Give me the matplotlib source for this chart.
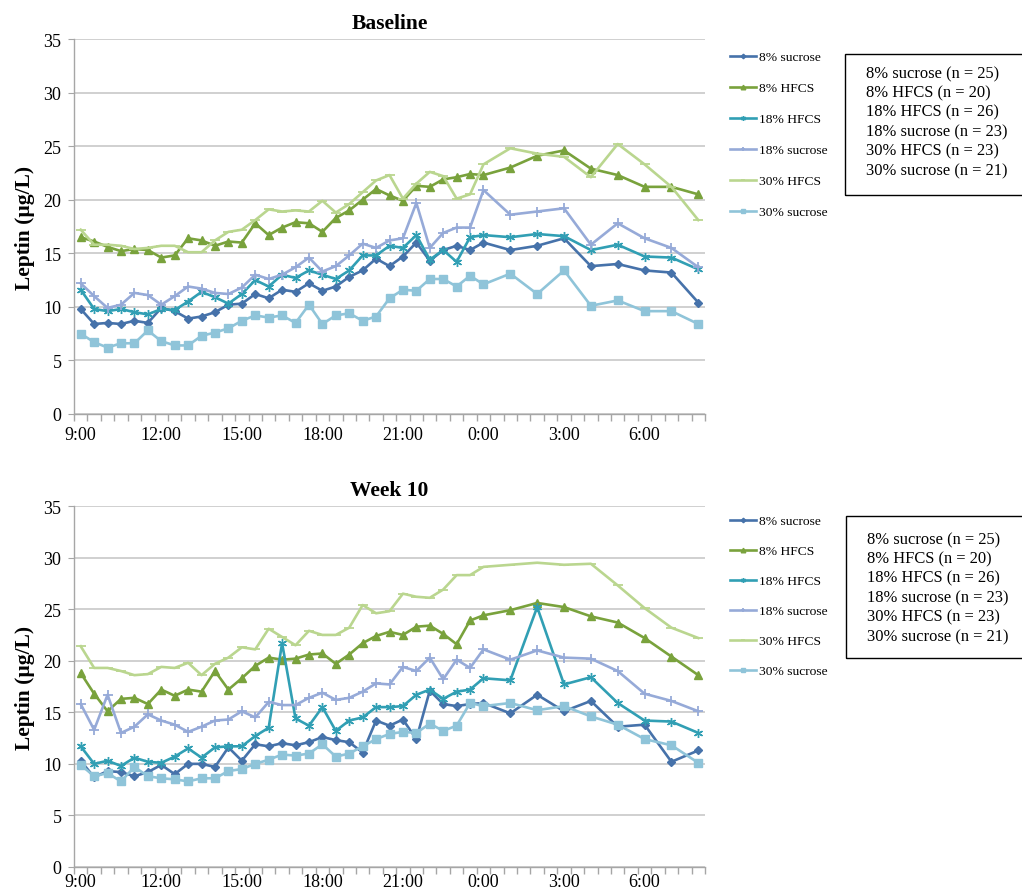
import matplotlib
matplotlib.use("Agg")
import matplotlib.pyplot as plt
from matplotlib.patches import Rectangle

plt.rcParams['font.family'] = ['Liberation Serif', 'DejaVu Serif']

# ---------------- data ----------------
times = ["9:00", "9:30", "10:00", "10:30", "11:00", "11:30", "12:00", "12:30",
         "13:00", "13:30", "14:00", "14:30", "15:00", "15:30", "16:00", "16:30",
         "17:00", "17:30", "18:00", "18:30", "19:00", "19:30", "20:00", "20:30",
         "21:00", "21:30", "22:00", "22:30", "23:00", "23:30", "0:00",
         "1:00", "2:00", "3:00", "4:00", "5:00", "6:00", "7:00", "8:00"]
tick_labels = ["9:00", "12:00", "15:00", "18:00", "21:00", "0:00", "3:00", "6:00"]
series_names = ["8% sucrose", "8% HFCS", "18% HFCS", "18% sucrose", "30% HFCS", "30% sucrose"]
group_n = [25, 20, 26, 23, 23, 21]
panel_titles = ["Baseline", "Week 10"]

# Baseline
base_s8 = [9.8, 8.4, 8.5, 8.4, 8.7, 8.5, 9.9, 9.6, 8.9, 9.1, 9.5, 10.2, 10.3, 11.2, 10.8, 11.6,
           11.4, 12.2, 11.5, 11.9, 12.8, 13.4, 14.5, 13.8, 14.7, 16.0, 14.3, 15.3, 15.7, 15.3, 16.0,
           15.3, 15.7, 16.4, 13.8, 14.0, 13.4, 13.2, 10.4]
base_h8 = [16.5, 16.1, 15.6, 15.2, 15.4, 15.3, 14.6, 14.8, 16.4, 16.2, 15.7, 16.1, 16.0, 17.8, 16.7, 17.4,
           17.9, 17.8, 17.0, 18.3, 19.0, 20.0, 21.0, 20.4, 19.9, 21.3, 21.2, 21.9, 22.1, 22.4, 22.3,
           23.0, 24.1, 24.6, 22.9, 22.3, 21.2, 21.2, 20.5]
base_h18 = [11.6, 9.8, 9.6, 9.8, 9.5, 9.3, 9.8, 9.7, 10.5, 11.4, 10.9, 10.3, 11.2, 12.5, 11.9, 13.0,
            12.7, 13.4, 13.0, 12.6, 13.4, 14.8, 14.8, 15.7, 15.5, 16.7, 14.4, 15.3, 14.2, 16.5, 16.7,
            16.5, 16.8, 16.6, 15.3, 15.8, 14.7, 14.6, 13.5]
base_s18 = [12.2, 11.0, 9.9, 10.2, 11.3, 11.1, 10.2, 11.0, 11.9, 11.7, 11.3, 11.2, 11.8, 13.0, 12.6, 13.0,
            13.7, 14.6, 13.3, 13.8, 14.8, 15.9, 15.5, 16.2, 16.4, 19.7, 15.5, 16.9, 17.4, 17.4, 20.9,
            18.6, 18.9, 19.2, 15.8, 17.8, 16.4, 15.5, 13.7]
base_h30 = [17.2, 15.8, 15.8, 15.7, 15.4, 15.5, 15.7, 15.7, 15.1, 15.1, 16.2, 17.0, 17.2, 18.1, 19.1, 18.9,
            19.0, 18.9, 19.9, 18.8, 19.6, 20.7, 21.8, 22.3, 20.1, 21.5, 22.6, 22.2, 20.1, 20.5, 23.3,
            24.8, 24.3, 24.0, 22.1, 25.2, 23.3, 21.2, 18.1]
base_s30 = [7.5, 6.7, 6.2, 6.6, 6.6, 7.8, 6.8, 6.4, 6.4, 7.3, 7.6, 8.0, 8.7, 9.2, 9.0, 9.2,
            8.5, 10.2, 8.4, 9.2, 9.4, 8.7, 9.1, 10.8, 11.6, 11.5, 12.6, 12.6, 11.9, 12.9, 12.1,
            13.1, 11.2, 13.4, 10.1, 10.6, 9.6, 9.6, 8.4]

# Week 10
wk10_s8 = [10.3, 8.7, 9.3, 9.2, 8.8, 9.2, 9.9, 9.0, 10.0, 10.0, 9.7, 11.6, 10.3, 11.9, 11.7, 12.0,
           11.8, 12.1, 12.6, 12.3, 12.1, 11.1, 14.2, 13.7, 14.3, 12.4, 17.1, 15.8, 15.6, 15.8, 15.9,
           14.9, 16.7, 15.1, 16.1, 13.6, 13.8, 10.2, 11.3]
wk10_h8 = [18.8, 16.8, 15.1, 16.3, 16.4, 15.8, 17.2, 16.6, 17.2, 17.0, 19.0, 17.2, 18.3, 19.5, 20.3, 20.1,
           20.2, 20.6, 20.7, 19.7, 20.6, 21.7, 22.4, 22.8, 22.5, 23.3, 23.4, 22.6, 21.6, 23.9, 24.4,
           24.9, 25.6, 25.2, 24.3, 23.7, 22.2, 20.4, 18.6]
wk10_h18 = [11.7, 10.0, 10.3, 9.8, 10.6, 10.2, 10.1, 10.7, 11.5, 10.6, 11.6, 11.7, 11.7, 12.7, 13.5, 21.7,
            14.4, 13.7, 15.5, 13.2, 14.2, 14.5, 15.5, 15.5, 15.6, 16.7, 17.2, 16.3, 17.0, 17.2, 18.3,
            18.1, 25.2, 17.7, 18.4, 15.9, 14.2, 14.1, 13.0]
wk10_s18 = [15.8, 13.3, 16.7, 13.0, 13.6, 14.8, 14.2, 13.8, 13.1, 13.6, 14.2, 14.3, 15.1, 14.5, 16.0, 15.7,
            15.7, 16.4, 16.9, 16.2, 16.4, 17.0, 17.8, 17.7, 19.4, 19.0, 20.3, 18.2, 20.1, 19.3, 21.1,
            20.1, 21.0, 20.3, 20.2, 19.0, 16.8, 16.1, 15.1]
wk10_h30 = [21.4, 19.3, 19.3, 19.0, 18.6, 18.7, 19.4, 19.3, 19.8, 18.6, 19.7, 20.3, 21.3, 21.1, 23.1, 22.3,
            21.5, 22.9, 22.5, 22.5, 23.2, 25.4, 24.6, 24.8, 26.5, 26.2, 26.1, 26.9, 28.3, 28.3, 29.1,
            29.3, 29.5, 29.3, 29.4, 27.3, 25.1, 23.2, 22.2]
wk10_s30 = [9.9, 8.8, 9.1, 8.3, 9.7, 8.8, 8.6, 8.5, 8.3, 8.6, 8.6, 9.3, 9.5, 10.0, 10.4, 10.9,
            10.8, 11.0, 11.9, 10.7, 11.0, 11.7, 12.4, 12.9, 13.1, 13.0, 13.9, 13.2, 13.7, 15.9, 15.6,
            15.9, 15.2, 15.6, 14.6, 13.8, 12.4, 11.8, 10.1]

panels = [
    [base_s8, base_h8, base_h18, base_s18, base_h30, base_s30],
    [wk10_s8, wk10_h8, wk10_h18, wk10_s18, wk10_h30, wk10_s30],
]

# ---------------- styles ----------------
colors = ["#4672aa", "#79a23c", "#319fb4", "#96aad8", "#bad68f", "#8fc4d9"]
markers = ["D", "^", (6, 2, 0), "+", "_", "s"]
msizes = [4.2, 6, 6.5, 6.5, 6.5, 6]
mews = [1, 1, 1.0, 1.3, 1.3, 1]


def to_hours(t):
    hh, mm = t.split(":")
    return (int(hh) - 9) % 24 + int(mm) / 60.0


x = [to_hours(t) for t in times]
tick_pos = [to_hours(t) for t in tick_labels]

W, H = 1022, 895
fig = plt.figure(figsize=(W / 100, H / 100), dpi=100)

ax_px = [(74, 40, 705, 415), (74, 507, 705, 868)]
xlabel_pad = [9, 4.5]
legend_top = [48, 512]
legend_spacing = [31, 30]
box_px = [(845, 55, 196), (846, 517, 659)]
box_text_top = [74, 540]

for p in range(2):
    l, t, r, b = ax_px[p]
    ax = fig.add_axes([l / W, 1 - b / H, (r - l) / W, (b - t) / H])
    for k in range(6):
        ax.plot(x, panels[p][k], color=colors[k], lw=1.9, marker=markers[k],
                markersize=msizes[k], markeredgewidth=mews[k],
                markerfacecolor=colors[k], markeredgecolor=colors[k],
                label=series_names[k])
    ax.set_xlim(-0.25, 23.25)
    ax.set_ylim(0, 35)
    ax.set_yticks(range(0, 36, 5))
    ax.yaxis.grid(True, color="#c4c4c4", lw=1.1)
    ax.set_axisbelow(True)
    for s in ["top", "right"]:
        ax.spines[s].set_visible(False)
    for s in ["left", "bottom"]:
        ax.spines[s].set_color("#a6a6a6")
        ax.spines[s].set_linewidth(1.0)
    ax.set_xticks(tick_pos)
    ax.set_xticklabels(tick_labels)
    ax.set_xticks([v - 0.25 for v in [i * 0.5 for i in range(48)]], minor=True)
    ax.tick_params(axis="x", which="major", length=0, labelsize=13, pad=xlabel_pad[p])
    ax.tick_params(axis="x", which="minor", length=5, color="#a6a6a6", width=1.0)
    ax.tick_params(axis="y", which="major", length=4, color="#a6a6a6", labelsize=13, pad=5)
    ax.set_ylabel("Leptin (µg/L)", fontsize=15.5, fontweight="bold", labelpad=6)
    ax.set_title(panel_titles[p], fontsize=15.5, fontweight="bold", pad=8)

    fig.legend(*ax.get_legend_handles_labels(), loc="upper left",
               bbox_to_anchor=(726 / W, 1 - legend_top[p] / H),
               frameon=False, fontsize=9.7, handlelength=1.9, handletextpad=0.25,
               labelspacing=(legend_spacing[p] - 12.4) / 13.5, borderpad=0.3,
               borderaxespad=0, markerscale=0.55)

    bx, btop, bbot = box_px[p]
    fig.patches.append(Rectangle((bx / W, 1 - bbot / H), (W + 10 - bx) / W, (bbot - btop) / H,
                                 transform=fig.transFigure, fill=False,
                                 edgecolor="black", lw=1.0))
    for k in range(6):
        fig.text((bx + 21) / W, 1 - (box_text_top[p] + 19.4 * k) / H,
                 f"{series_names[k]} (n = {group_n[k]})", fontsize=11.9,
                 va="center", ha="left")

fig.savefig("out.png", dpi=100)
